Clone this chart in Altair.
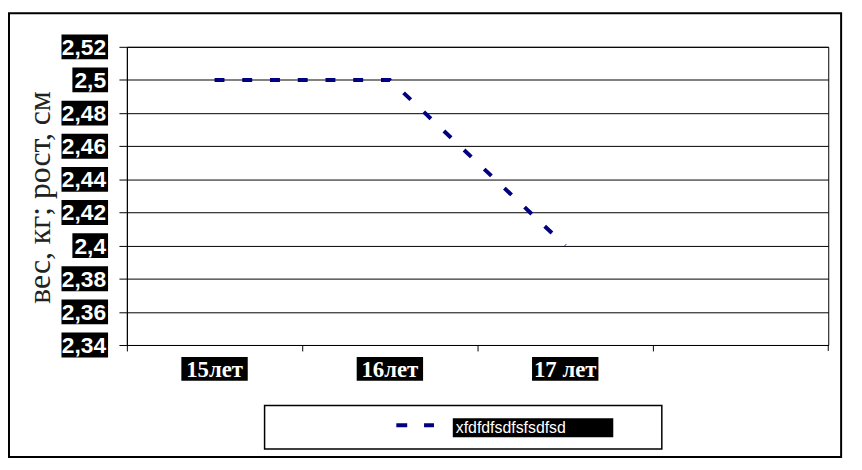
import altair as alt
import pandas as pd

# ---- data ----
categories = ["15лет", "16лет", "17 лет", " "]
values = [2.5, 2.5, 2.4, None]
series_name = "xfdfdfsdfsfsdfsd"
y_ticks = [2.34, 2.36, 2.38, 2.40, 2.42, 2.44, 2.46, 2.48, 2.50, 2.52]
y_tick_labels = ["2,34", "2,36", "2,38", "2,4", "2,42", "2,44", "2,46", "2,48", "2,5", "2,52"]
x_label_cats = ["15лет", "16лет", "17 лет"]
y_title = "вес, кг; рост, см"

line_df = pd.DataFrame({"cat": categories, "v": values}).dropna()
ytick_df = pd.DataFrame({"v": y_ticks, "label": y_tick_labels})
xlab_df = pd.DataFrame({"cat": x_label_cats})
one = pd.DataFrame({"d": [0]})

W, H = 708, 301
NAVY = "#000080"

y_scale = alt.Scale(domain=[2.34, 2.52], nice=False, zero=False)
x_scale = alt.Scale(domain=categories, paddingInner=0, paddingOuter=0)

x_axis = alt.Axis(labels=False, title=None, bandPosition=0, tickSize=6,
                  tickColor="black", domainColor="black", grid=False)
y_axis = alt.Axis(values=y_ticks, labels=False, title=None, tickSize=8,
                  tickColor="black", domainColor="black", grid=True,
                  gridColor="black", gridWidth=1, gridOpacity=1)

# outer frame
frame = alt.Chart(one).mark_rect(fillOpacity=0, stroke="black", strokeWidth=2).encode(
    x=alt.value(-119), x2=alt.value(721), y=alt.value(-34), y2=alt.value(414)
)

# legend box
legend_box = alt.Chart(one).mark_rect(fill="white", stroke="black", strokeWidth=1.5).encode(
    x=alt.value(139), x2=alt.value(540), y=alt.value(362), y2=alt.value(406)
)
legend_sym = alt.Chart(one).mark_rule(color=NAVY, strokeWidth=4, strokeDash=[11, 17], strokeCap="butt").encode(
    x=alt.value(272), x2=alt.value(310), y=alt.value(382)
)
legend_lbl_box = alt.Chart(one).mark_rect(color="black").encode(
    x=alt.value(329), x2=alt.value(491), y=alt.value(375), y2=alt.value(394)
)
legend_lbl = alt.Chart(one).mark_text(
    align="left", baseline="middle", font="Liberation Sans", fontSize=16, color="white"
).encode(x=alt.value(332), y=alt.value(385), text=alt.value(series_name))

# main line with axes
line = alt.Chart(line_df).mark_line(
    color=NAVY, strokeWidth=4, strokeDash=[10, 18], strokeCap="butt"
).encode(
    x=alt.X("cat:N", scale=x_scale, sort=categories, axis=x_axis),
    y=alt.Y("v:Q", scale=y_scale, axis=y_axis),
)

right_tick = alt.Chart(one).mark_rule(color="black").encode(
    x=alt.value(W), y=alt.value(H), y2=alt.value(H + 6)
)

# y tick label boxes
ybox_long = alt.Chart(ytick_df).transform_filter("length(datum.label) > 3").transform_calculate(
    lo="datum.v - 0.0075", hi="datum.v + 0.0075"
).mark_rect(color="black").encode(
    y=alt.Y("lo:Q", scale=y_scale, axis=y_axis), y2="hi:Q",
    x=alt.value(-66), x2=alt.value(-19)
)
ybox_short = alt.Chart(ytick_df).transform_filter("length(datum.label) <= 3").transform_calculate(
    lo="datum.v - 0.0075", hi="datum.v + 0.0075"
).mark_rect(color="black").encode(
    y=alt.Y("lo:Q", scale=y_scale, axis=y_axis), y2="hi:Q",
    x=alt.value(-55), x2=alt.value(-19)
)
ytext = alt.Chart(ytick_df).mark_text(
    align="right", baseline="middle", font="Liberation Sans", fontWeight="bold",
    fontSize=23, color="white", dy=1
).encode(
    y=alt.Y("v:Q", scale=y_scale, axis=y_axis), x=alt.value(-21), text="label:N"
)

# x labels
xbox = alt.Chart(xlab_df).mark_bar(color="black", width=67).encode(
    x=alt.X("cat:N", scale=x_scale, axis=x_axis), y=alt.value(313), y2=alt.value(337)
)
xtext = alt.Chart(xlab_df).mark_text(
    align="center", baseline="middle", font="Liberation Serif", fontWeight="bold",
    fontSize=23, color="white", dy=1
).encode(
    x=alt.X("cat:N", scale=x_scale, axis=x_axis), y=alt.value(325), text="cat:N"
)

# y title
ytitle = alt.Chart(one).mark_text(
    angle=270, align="center", baseline="middle", font="Liberation Serif",
    fontSize=32, color="#222222"
).encode(x=alt.value(-88), y=alt.value(152), text=alt.value(y_title))

chart = alt.layer(
    frame, legend_box, legend_sym, legend_lbl_box, legend_lbl,
    line, right_tick, ybox_long, ybox_short, ytext, xbox, xtext, ytitle
).properties(
    width=W, height=H,
    autosize=alt.AutoSizeParams(type="none"),
    padding={"left": 120, "top": 37, "right": 26, "bottom": 124},
    background="white",
).configure_view(stroke="black", strokeWidth=1)

chart.save("out.html", embed_options={"renderer": "svg", "actions": False})
